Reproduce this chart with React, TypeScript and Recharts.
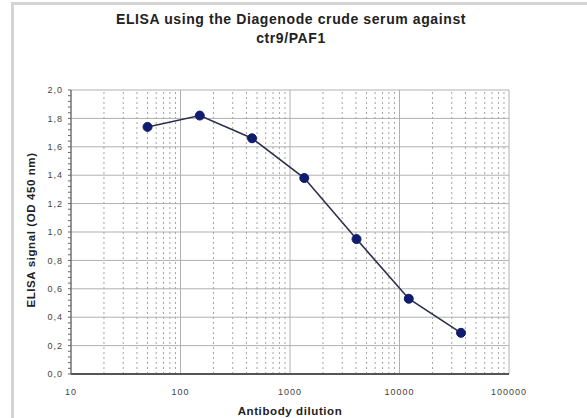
import React from 'react';
import { LineChart, Line, XAxis, YAxis, CartesianGrid, Label, ReferenceLine } from 'recharts';

const dilution = [50, 150, 450, 1350, 4050, 12150, 36450];
const signal = [1.74, 1.82, 1.66, 1.38, 0.95, 0.53, 0.29];

const xMajorTicks = [10, 100, 1000, 10000, 100000];
const xMinorTicks = [
  20, 30, 40, 50, 60, 70, 80, 90,
  200, 300, 400, 500, 600, 700, 800, 900,
  2000, 3000, 4000, 5000, 6000, 7000, 8000, 9000,
  20000, 30000, 40000, 50000, 60000, 70000, 80000, 90000,
];
const yMajorTicks = [0, 0.2, 0.4, 0.6, 0.8, 1.0, 1.2, 1.4, 1.6, 1.8, 2.0];
const yMinorTicks = Array.from({ length: 51 }, (_, i) => Math.round(i * 4) / 100);

const data = dilution.map((d, i) => ({ dilution: d, signal: signal[i] }));

const FONT = '"Liberation Sans", Arial, sans-serif';

const isMajor = (v: number) => yMajorTicks.some((m) => Math.abs(m - v) < 1e-6);

export default function App() {
  return (
    <div style={{ position: 'absolute', left: 0, top: 0, width: 587, height: 418, background: '#fff', fontFamily: FONT }}>
      <div
        style={{
          position: 'absolute',
          left: 11,
          top: 2,
          width: 576,
          height: 416,
          borderTop: '3px solid #d4d4d4',
          borderLeft: '3px solid #d4d4d4',
          boxSizing: 'border-box',
        }}
      />
      <div
        style={{
          position: 'absolute',
          left: 0,
          width: 582,
          top: 10,
          textAlign: 'center',
          fontWeight: 'bold',
          fontSize: 14,
          letterSpacing: 0.6,
          lineHeight: '19px',
          color: '#222',
        }}
      >
        ELISA using the Diagenode crude serum against
        <br />
        ctr9/PAF1
      </div>
      <div style={{ position: 'absolute', left: 0, top: 0 }}>
        <LineChart width={587} height={418} data={data} margin={{ top: 90, right: 78, bottom: 0, left: 13 }}>
          {xMinorTicks.map((v) => (
            <ReferenceLine
              key={v}
              x={v}
              stroke="#a4a4a4"
              strokeWidth={1}
              strokeDasharray="2 3"
              ifOverflow="visible"
            />
          ))}
          <CartesianGrid
            horizontalValues={yMajorTicks}
            verticalValues={xMajorTicks}
            stroke="#b0b0b0"
          />
          <XAxis
            dataKey="dilution"
            type="number"
            scale="log"
            domain={[10, 100000]}
            ticks={xMajorTicks}
            allowDataOverflow
            height={44}
            tickLine={false}
            tickSize={0}
            tickMargin={15}
            axisLine={{ stroke: '#555', strokeWidth: 2 }}
            tick={{ fontSize: 9, fill: '#444', fontFamily: FONT, letterSpacing: 1 }}
          >
            <Label
              value="Antibody dilution"
              position="insideBottom"
              offset={3}
              style={{ fontSize: 11.5, fontWeight: 'bold', fill: '#222', fontFamily: FONT, letterSpacing: 0.6 }}
            />
          </XAxis>
          <YAxis
            type="number"
            domain={[0, 2]}
            ticks={yMinorTicks}
            interval={0}
            width={58}
            tickSize={3}
            tickMargin={5}
            tickLine={{ stroke: '#666' }}
            axisLine={{ stroke: '#555' }}
            tickFormatter={(v: number) => (isMajor(v) ? v.toFixed(1).replace('.', ',') : '')}
            tick={{ fontSize: 9, fill: '#444', fontFamily: FONT, letterSpacing: 1 }}
          >
            <Label
              content={(props: any) => {
                const vb = props.viewBox || {};
                const cx = 31;
                const cy = (vb.y || 90) + (vb.height || 284) / 2 - 2;
                return (
                  <text
                    x={cx}
                    y={cy}
                    transform={`rotate(-90 ${cx} ${cy})`}
                    textAnchor="middle"
                    dominantBaseline="central"
                    style={{ fontSize: 11.5, fontWeight: 'bold', fill: '#222', fontFamily: FONT, letterSpacing: 0.6 }}
                  >
                    ELISA signal (OD 450 nm)
                  </text>
                );
              }}
            />
          </YAxis>
          <Line
            type="linear"
            dataKey="signal"
            stroke="#2c2e4e"
            strokeWidth={1.6}
            dot={{ r: 4.5, fill: '#101c6e', stroke: '#101c6e', strokeWidth: 1 }}
            isAnimationActive={false}
          />
        </LineChart>
      </div>
    </div>
  );
}
